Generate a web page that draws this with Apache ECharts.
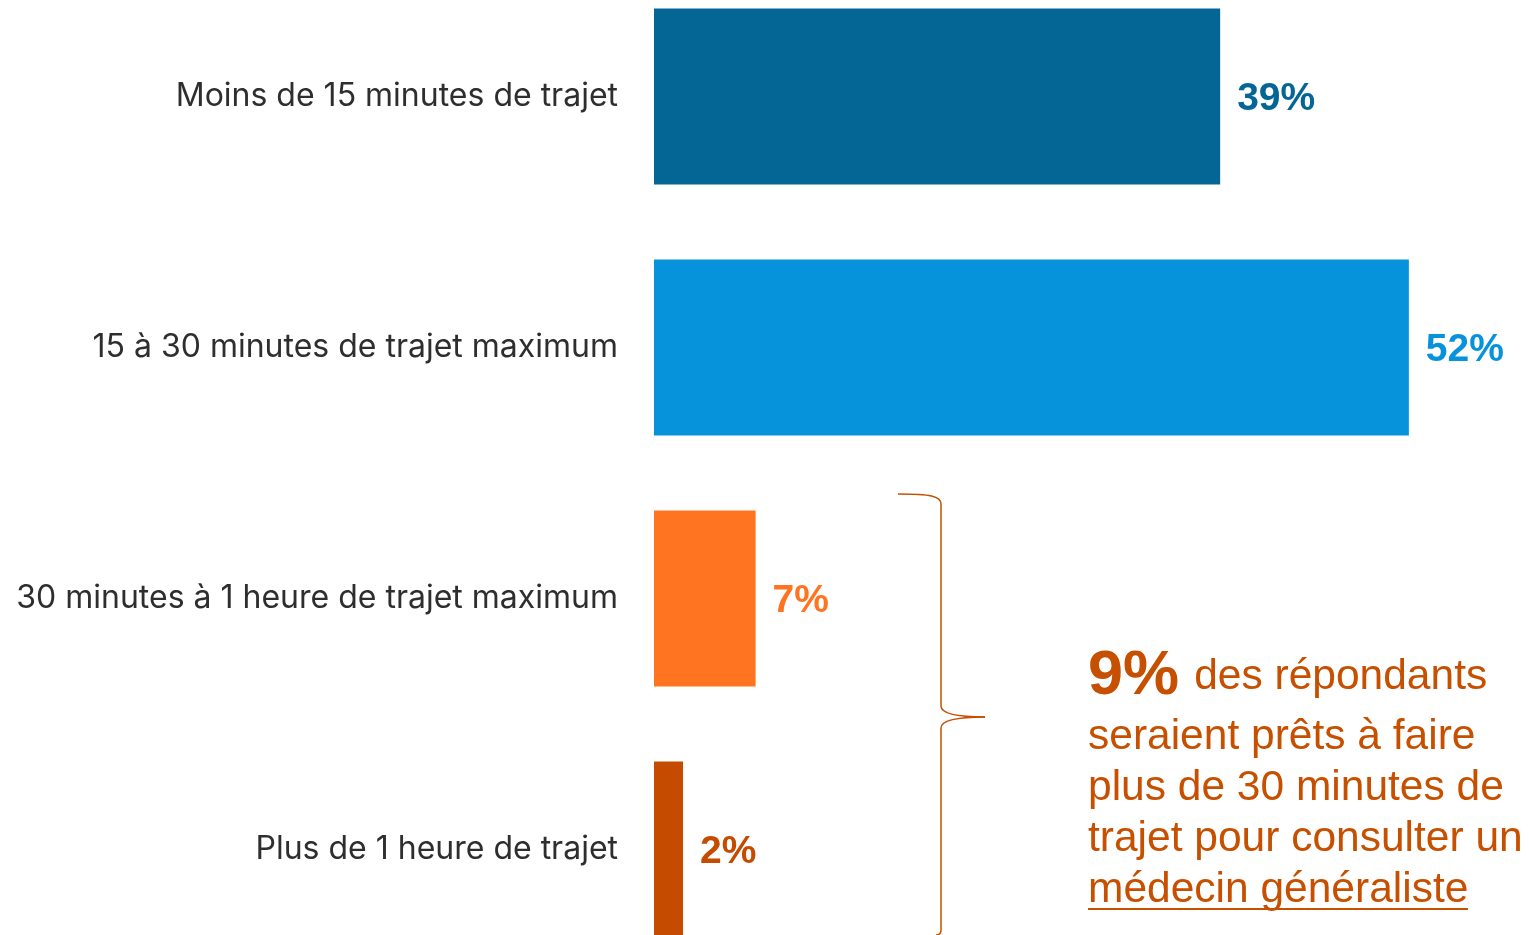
<!DOCTYPE html>
<html>
<head>
<meta charset="utf-8">
<script src="https://cdn.jsdelivr.net/npm/echarts@6/dist/echarts.min.js"></script>
<style>
  html, body { margin:0; padding:0; background:#fff; overflow:hidden; }
  #chart { position:absolute; left:0; top:-29px; width:1529px; height:1004px; }
</style>
</head>
<body>
<div id="chart"></div>
<script>
  // trajet acceptable pour consulter un médecin généraliste
  var categories = ['Moins de 15 minutes de trajet', '15 à 30 minutes de trajet maximum', '30 minutes à 1 heure de trajet maximum', 'Plus de 1 heure de trajet'];
  var values = [39, 52, 7, 2];
  var barColors = ['#046695', '#0792DC', '#FF7421', '#C54B00'];
  var noteColor = '#C64F00';

  var braceStyle = { fill: null, stroke: noteColor, lineWidth: 1.5 };

  var chart = echarts.init(document.getElementById('chart'));
  var option = {
    animation: false,
    grid: { left: 654, top: 0, width: 871, bottom: 0 },
    xAxis: {
      type: 'value', min: 0, max: 60, show: false
    },
    yAxis: {
      type: 'category',
      data: categories,
      inverse: true,
      axisLine: { show: false },
      axisTick: { show: false },
      axisLabel: {
        margin: 36,
        color: '#2e2e2e',
        fontFamily: 'Inter',
        fontSize: 32,
        padding: [4, 0, 0, 0]
      }
    },
    series: [{
      type: 'bar',
      barWidth: 176,
      data: values.map(function (v, i) {
        return {
          value: v,
          itemStyle: { color: barColors[i] },
          label: { color: barColors[i] }
        };
      }),
      label: {
        show: true,
        position: 'right',
        distance: 17,
        offset: [0, 3],
        formatter: '{c}%',
        fontFamily: 'Liberation Sans',
        fontWeight: 'bold',
        fontSize: 39
      }
    }],
    graphic: [{
      type: 'group',
      x: 0,
      y: 29, // le div commence 29px au-dessus de la page
      children: [
        // accolade
        { type: 'bezierCurve', shape: { x1: 898, y1: 494, cpx1: 930, cpy1: 494, cpx2: 941, cpy2: 496, x2: 941, y2: 504 }, style: braceStyle },
        { type: 'line', shape: { x1: 941, y1: 504, x2: 941, y2: 706 }, style: braceStyle },
        { type: 'bezierCurve', shape: { x1: 941, y1: 706, cpx1: 941, cpy1: 714, cpx2: 960, cpy2: 717, x2: 985, y2: 717 }, style: braceStyle },
        { type: 'bezierCurve', shape: { x1: 985, y1: 717, cpx1: 960, cpy1: 717, cpx2: 941, cpy2: 720, x2: 941, y2: 728 }, style: braceStyle },
        { type: 'line', shape: { x1: 941, y1: 728, x2: 941, y2: 930 }, style: braceStyle },
        { type: 'bezierCurve', shape: { x1: 941, y1: 930, cpx1: 941, cpy1: 934, cpx2: 939, cpy2: 935, x2: 936, y2: 935 }, style: braceStyle },
        {
          type: 'text',
          x: 1088,
          y: 642,
          style: {
            text: '{big|9%} {t| des répondants}\n{t|seraient prêts à faire}\n{t|plus de 30 minutes de}\n{t|trajet pour consulter un}\n{t|médecin généraliste}',
            fill: noteColor,
            rich: {
              big: { fontFamily: 'Liberation Sans', fontWeight: 'bold', fontSize: 63, lineHeight: 70, fill: noteColor },
              t: { fontFamily: 'Liberation Sans', fontSize: 42.5, lineHeight: 51, fill: noteColor }
            }
          }
        },
        {
          type: 'line',
          shape: { x1: 1088, y1: 909, x2: 1468, y2: 909 },
          style: { stroke: noteColor, lineWidth: 2 }
        }
      ]
    }]
  };
  chart.setOption(option);
</script>
</body>
</html>
